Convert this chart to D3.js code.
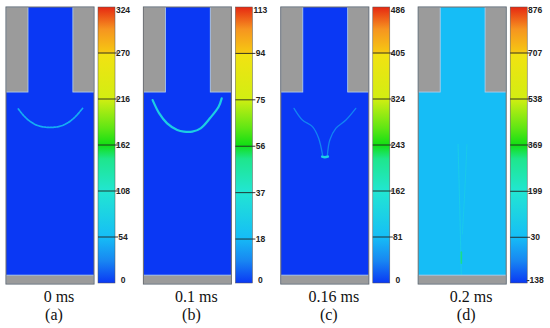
<!DOCTYPE html>
<html>
<head>
<meta charset="utf-8">
<script src="https://cdn.jsdelivr.net/npm/d3@7"></script>
<style>
  body { margin: 0; background: #fff; }
</style>
</head>
<body>
<div id="chart"></div>
<script>
// Panel captions
const captions = ["0 ms", "0.1 ms", "0.16 ms", "0.2 ms"];
const letters = ["(a)", "(b)", "(c)", "(d)"];

// Colorbar tick labels per panel (bottom to top)
const tickLabels = [
    [0, 54, 108, 162, 216, 270, 324],
    [0, 18, 37, 56, 75, 94, 113],
    [0, 81, 162, 243, 324, 405, 486],
    [-138, 30, 199, 369, 538, 707, 876]
];

// Background field value of the fluid in each panel
const fieldValue = [0, 0, 0, 30];

// Fronts, in fractions of the domain (x across, y down), with their value
const frontA = [[0.14, 0.368], [0.2, 0.392], [0.27, 0.412], [0.36, 0.428], [0.45, 0.434],
    [0.55, 0.434], [0.64, 0.428], [0.73, 0.412], [0.8, 0.392], [0.87, 0.366]];
const frontB = [[0.105, 0.336], [0.18, 0.384], [0.27, 0.42], [0.385, 0.444], [0.46, 0.45],
    [0.555, 0.45], [0.65, 0.438], [0.76, 0.4], [0.855, 0.36], [0.89, 0.33]];
const frontCLeft = [[0.15, 0.366], [0.245, 0.408], [0.36, 0.432], [0.43, 0.474], [0.474, 0.534]];
const frontCRight = [[0.852, 0.366], [0.74, 0.408], [0.625, 0.438], [0.557, 0.48], [0.53, 0.534]];
const frontCTip = [[0.47, 0.54], [0.5, 0.542], [0.535, 0.54]];
const frontDLeft = [[0.453, 0.496], [0.47, 0.7], [0.49, 0.965]];
const frontDRight = [[0.554, 0.496], [0.53, 0.66], [0.502, 0.82]];
const frontDSpot = [[0.49, 0.885], [0.49, 0.925]];

const fronts = [
    [{ pts: frontA, value: 60, w: 1.7, op: 0.85, dash: "2.2,1" }],
    [{ pts: frontB, value: 30, w: 2.2, op: 0.95, dash: null }],
    [{ pts: frontCLeft, value: 90, w: 1.3, op: 0.55, dash: null },
     { pts: frontCRight, value: 90, w: 1.3, op: 0.55, dash: null },
     { pts: frontCTip, value: 120, w: 2.5, op: 1, dash: null }],
    [{ pts: frontDLeft, value: 160, w: 0.8, op: 0.6, dash: null },
     { pts: frontDRight, value: 160, w: 0.8, op: 0.5, dash: null },
     { pts: frontDSpot, value: 330, w: 1.6, op: 0.8, dash: null }]
];

const width = 550;
const height = 328;
const boxW = 88, yTop = 7, yBottom = 284;
const barW = 17;

// rainbow used by the colorbars (0 = bottom, 1 = top)
const stops = [
    [0, "#0a38f4"], [0.08, "#1886f2"], [0.167, "#16bef6"], [0.333, "#22e6d2"],
    [0.45, "#1ee68c"], [0.5, "#12de14"], [0.56, "#5ee614"], [0.667, "#d2ee12"],
    [0.83, "#f2e212"], [0.835, "#f6c812"], [0.92, "#f69420"], [1, "#e62812"]
];
const rainbow = d3.scaleLinear()
    .domain(stops.map(d => d[0]))
    .range(stops.map(d => d[1]))
    .interpolate(d3.interpolateRgb);

const svg = d3.select("#chart")
    .append("svg")
    .attr("width", width)
    .attr("height", height);

const defs = svg.append("defs");
const grad = defs.append("linearGradient")
    .attr("id", "cbar")
    .attr("x1", 0).attr("y1", 1).attr("x2", 0).attr("y2", 0);
grad.selectAll("stop")
    .data(stops)
    .enter()
    .append("stop")
    .attr("offset", d => d[0])
    .attr("stop-color", d => d[1]);

const serif = "'Liberation Serif', 'Times New Roman', serif";

captions.forEach((cap, i) => {
    const left = 6 + i * 137.4;
    const g = svg.append("g");

    const x = d3.scaleLinear().domain([0, 1]).range([left, left + boxW]);
    const y = d3.scaleLinear().domain([0, 1]).range([yTop, yBottom]);

    const ticks = tickLabels[i];
    const vmin = ticks[0], vmax = ticks[ticks.length - 1];
    const toT = d3.scaleLinear().domain([vmin, vmax]).range([0, 1]);
    const color = v => rainbow(toT(v));

    // fluid
    g.append("rect")
        .attr("x", x(0)).attr("y", y(0))
        .attr("width", x(1) - x(0)).attr("height", y(1) - y(0))
        .attr("fill", color(fieldValue[i]));

    // fronts
    const line = d3.line()
        .x(d => x(d[0]))
        .y(d => y(d[1]))
        .curve(d3.curveCatmullRom);
    fronts[i].forEach(f => {
        g.append("path")
            .attr("d", line(f.pts))
            .attr("fill", "none")
            .attr("stroke", color(f.value))
            .attr("stroke-width", f.w)
            .attr("stroke-opacity", f.op)
            .attr("stroke-linecap", "round")
            .attr("stroke-dasharray", f.dash);
    });

    // solid walls (gray)
    const walls = [
        [0, 0, 0.25, 0.307],
        [0.76, 0, 1, 0.307],
        [0, 0.968, 1, 1]
    ];
    g.selectAll(".wall")
        .data(walls)
        .enter()
        .append("rect")
        .attr("x", d => x(d[0]))
        .attr("y", d => y(d[1]))
        .attr("width", d => x(d[2]) - x(d[0]))
        .attr("height", d => y(d[3]) - y(d[1]))
        .attr("fill", "#9b9b9b")
        .attr("stroke", "#b4d0ee")
        .attr("stroke-width", 0.8);

    // outer frame
    g.append("rect")
        .attr("x", x(0)).attr("y", y(0))
        .attr("width", x(1) - x(0)).attr("height", y(1) - y(0))
        .attr("fill", "none")
        .attr("stroke", "#6e6e6e")
        .attr("stroke-width", 1);

    // colorbar
    const bx = left + 92;
    const by = d3.scaleLinear().domain([vmin, vmax]).range([yBottom - 1, yTop]);
    g.append("rect")
        .attr("x", bx).attr("y", yTop)
        .attr("width", barW).attr("height", yBottom - 1 - yTop)
        .attr("fill", "url(#cbar)")
        .attr("stroke", "#555")
        .attr("stroke-width", 0.5);

    g.selectAll(".tick")
        .data(ticks.slice(1, -1))
        .enter()
        .append("line")
        .attr("x1", bx).attr("x2", bx + barW + 3)
        .attr("y1", d => by(d)).attr("y2", d => by(d))
        .attr("stroke", "#222")
        .attr("stroke-width", 0.9);

    g.selectAll(".lbl")
        .data(ticks)
        .enter()
        .append("text")
        .attr("x", bx + barW + 8)
        .attr("y", d => Math.min(Math.max(by(d), yTop + 3), yBottom - 4))
        .attr("dy", "0.35em")
        .attr("text-anchor", "middle")
        .attr("font-family", "'Liberation Sans', Arial, sans-serif")
        .attr("font-size", "8.5px")
        .attr("font-weight", "bold")
        .attr("fill", "#222")
        .text(d => d);

    // captions
    g.append("text")
        .attr("x", left + 53)
        .attr("y", 302)
        .attr("text-anchor", "middle")
        .attr("font-family", serif)
        .attr("font-size", "16px")
        .attr("fill", "#111")
        .text(cap);
    g.append("text")
        .attr("x", left + 48)
        .attr("y", 320)
        .attr("text-anchor", "middle")
        .attr("font-family", serif)
        .attr("font-size", "16px")
        .attr("fill", "#111")
        .text(letters[i]);
});
</script>
</body>
</html>
